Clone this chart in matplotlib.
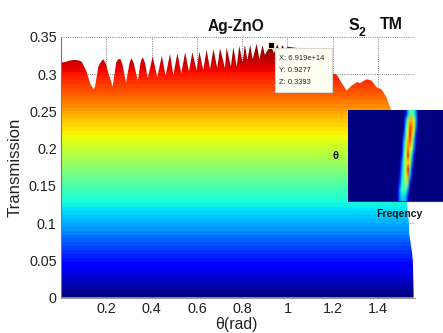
import numpy as np
import matplotlib
matplotlib.use('Agg')
import matplotlib.pyplot as plt
from matplotlib.patches import Polygon, Rectangle

plt.rcParams['font.family'] = ['Liberation Sans', 'DejaVu Sans']

# upper edge of the filled surface
theta = [0.0, 0.02, 0.035, 0.054, 0.075, 0.091, 0.113, 0.128, 0.143, 0.150, 0.165, 0.175, 0.187, 0.198, 0.205,
         0.228, 0.244, 0.253, 0.263, 0.272, 0.287, 0.303, 0.312, 0.322, 0.339, 0.352, 0.361, 0.371, 0.383, 0.405,
         0.425, 0.445, 0.462, 0.481, 0.496, 0.514, 0.531,
         0.548, 0.565, 0.580, 0.599, 0.611, 0.628, 0.643, 0.658, 0.673, 0.690, 0.702, 0.724, 0.731,
         0.750, 0.761, 0.776, 0.787, 0.802, 0.812, 0.823, 0.835, 0.846, 0.864, 0.876, 0.890, 0.900,
         0.927, 0.940, 0.955, 0.966, 0.978, 0.990, 1.000, 1.048, 1.100, 1.195, 1.217, 1.239, 1.261,
         1.283, 1.308, 1.320, 1.349, 1.371, 1.393, 1.415, 1.437, 1.456, 1.490, 1.527, 1.536, 1.537,
         1.544, 1.550, 1.554, 1.557]
trans = [0.3156, 0.3165, 0.318, 0.3192, 0.3188, 0.317, 0.3035, 0.288, 0.280, 0.2833, 0.3102, 0.316, 0.3202, 0.314, 0.3058,
         0.2833, 0.316, 0.3202, 0.3202, 0.312, 0.288, 0.316, 0.3214, 0.314, 0.291, 0.317, 0.3228, 0.315, 0.2946, 0.3237,
         0.2958, 0.3246, 0.2977, 0.3273, 0.299, 0.3282, 0.3012,
         0.3291, 0.3035, 0.3295, 0.3048, 0.3304, 0.3057, 0.3327, 0.3066, 0.3336, 0.308, 0.3349, 0.308, 0.3358,
         0.3102, 0.3362, 0.3102, 0.338, 0.316, 0.3394, 0.319, 0.3394, 0.32, 0.3407, 0.32, 0.339, 0.326,
         0.3393, 0.328, 0.3402, 0.33, 0.339, 0.331, 0.337, 0.335, 0.325, 0.3013, 0.2995, 0.2883, 0.278,
         0.2846, 0.2895, 0.288, 0.2932, 0.2915, 0.2825, 0.2798, 0.269, 0.2534, 0.195, 0.1288, 0.100, 0.0867,
         0.0728, 0.0598, 0.0464, 0.0]

xticks = [0.2, 0.4, 0.6, 0.8, 1.0, 1.2, 1.4]
xticklabels = ['0.2', '0.4', '0.6', '0.8', '1', '1.2', '1.4']
yticks = [0, 0.05, 0.1, 0.15, 0.2, 0.25, 0.3, 0.35]
yticklabels = ['0', '0.05', '0.1', '0.15', '0.2', '0.25', '0.3', '0.35']

# data cursor
cursor_theta = 0.927
cursor_trans = 0.3393
cursor_lines = ['X: 6.919e+14', 'Y: 0.9277', 'Z: 0.3393']

# inset map, top row first
inset_map = np.array([
    [0, 0, 0, 0, 0, .10, .30, .45, .45, .40, .25, 0],
    [0, 0, 0, 0, .05, .30, .55, .72, .72, .60, .30, .05],
    [0, 0, 0, 0, .10, .38, .62, .85, .75, .65, .25, 0],
    [0, 0, 0, 0, .20, .45, .65, .90, .70, .50, .15, 0],
    [0, 0, 0, .05, .30, .55, .72, .85, .60, .30, .10, 0],
    [0, 0, 0, .10, .35, .60, .80, .65, .55, .25, 0, 0],
    [0, 0, 0, .15, .42, .60, .88, .55, .35, .10, 0, 0],
    [0, 0, .05, .25, .45, .60, .70, .60, .25, 0, 0, 0],
    [0, 0, .10, .30, .45, .65, .90, .40, .15, 0, 0, 0],
    [0, 0, .15, .35, .45, .60, .75, .30, .05, 0, 0, 0],
    [0, .05, .20, .38, .45, .55, .45, .15, 0, 0, 0, 0],
    [0, .10, .30, .42, .42, .42, .25, 0, 0, 0, 0, 0],
    [0, .10, .28, .33, .33, .28, .10, 0, 0, 0, 0, 0],
])

W, H = 443.0, 333.0


def px_axes(fig, left, top, right, bottom):
    return fig.add_axes([left / W, 1 - bottom / H, (right - left) / W, (bottom - top) / H])


fig = plt.figure(figsize=(W / 100, H / 100), dpi=100)
ax = px_axes(fig, 61, 37, 415, 297.5)

# jet ramp in bands, cut to the curve
ramp = np.linspace(0, 1, 64).reshape(-1, 1)
img = ax.imshow(ramp, cmap='jet', origin='lower', aspect='auto', interpolation='nearest',
                extent=[0, max(theta), 0, max(trans)], zorder=2)
outline = list(zip(theta, trans)) + [(theta[-1], 0), (theta[0], 0)]
clip = Polygon(outline, closed=True, transform=ax.transData, facecolor='none', edgecolor='none')
ax.add_patch(clip)
img.set_clip_path(clip)

ax.set_xlim(0, 1.563)
ax.set_ylim(0, 0.35)
ax.set_xticks(xticks)
ax.set_xticklabels(xticklabels)
ax.set_yticks(yticks)
ax.set_yticklabels(yticklabels)
ax.tick_params(length=0, labelsize=10.4, colors='#222222', pad=3)
ax.grid(True, linestyle=':', color='#555555', linewidth=0.6, zorder=1)
ax.set_axisbelow(True)
ax.spines['top'].set_visible(False)
ax.spines['right'].set_visible(False)
ax.spines['left'].set_color('#777777')
ax.spines['bottom'].set_color('#999999')

ax.plot([cursor_theta], [cursor_trans], 's', color='black', markersize=4.6,
        markeredgecolor='#ffffd8', markeredgewidth=0.6, zorder=6, clip_on=False)

# tooltip
fig.add_artist(Rectangle((275 / W, 1 - 92 / H), 57 / W, 44 / H, transform=fig.transFigure,
                         facecolor='#fffff4', edgecolor='#d8d8d0', linewidth=0.8, zorder=7))
for line, py in zip(cursor_lines, [59, 70.5, 82]):
    fig.text(279 / W, 1 - py / H, line, fontsize=5.4, color='#222222', va='center', zorder=8)

# labels placed by hand like the annotated original
fig.text(15 / W, 1 - 167.5 / H, 'Transmission', rotation=90, fontsize=12.1, ha='center', va='center', color='#222222')
fig.text(236.5 / W, 1 - 324.5 / H, 'θ(rad)', fontsize=11.3, ha='center', va='center', color='#222222')
fig.text(236 / W, 1 - 27 / H, 'Ag-ZnO', fontsize=11.2, fontweight='bold', ha='center', va='center', color='#111111')
fig.text(354 / W, 1 - 25 / H, 'S', fontsize=11.5, fontweight='bold', ha='center', va='center', color='#111111')
fig.text(362 / W, 1 - 33.5 / H, '2', fontsize=9, fontweight='bold', ha='center', va='center', color='#111111')
fig.text(391.5 / W, 1 - 24.5 / H, 'TM', fontsize=11.5, fontweight='bold', ha='center', va='center', color='#111111')

# inset
ins = px_axes(fig, 348, 110, 443, 201)
ins.set_facecolor(plt.get_cmap('jet')(0.0))
ins.imshow(inset_map, cmap='jet', vmin=0, vmax=1, aspect='auto', interpolation='bilinear',
           extent=[395, 419, 201, 110], zorder=2)
ins.set_xlim(348, 443)
ins.set_ylim(201, 110)
ins.set_xticks([])
ins.set_yticks([])
for sp in ins.spines.values():
    sp.set_visible(False)
ins.spines['bottom'].set_visible(True)
ins.spines['bottom'].set_color('#333333')
ins.spines['bottom'].set_linewidth(0.8)
fig.text(335.5 / W, 1 - 156 / H, 'θ', fontsize=8, fontweight='bold', ha='center', va='center', color='#111111')
fig.text(399.5 / W, 1 - 214 / H, 'Freqency', fontsize=7.5, fontweight='bold', ha='center', va='center', color='#111111')

fig.savefig('out.png', dpi=100)
